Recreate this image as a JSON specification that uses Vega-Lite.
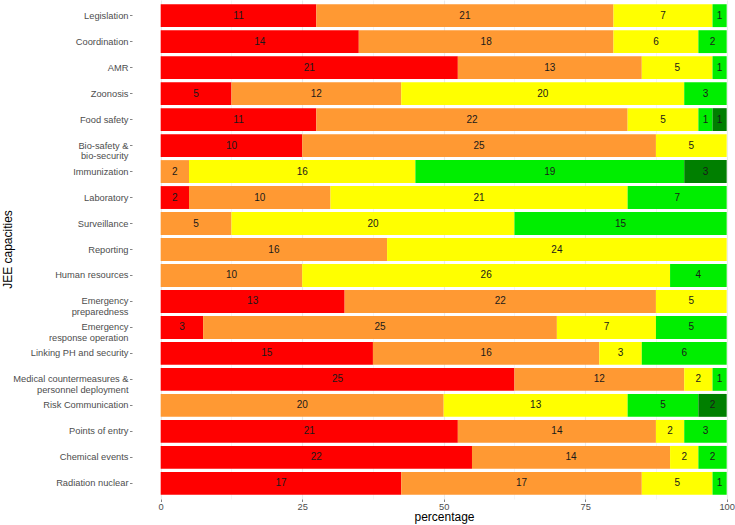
{
  "$schema": "https://vega.github.io/schema/vega-lite/v6.json",
  "autosize": {"type": "none"},
  "padding": {"left": 132, "top": 0, "right": 0, "bottom": 26},
  "width": 603,
  "height": 499,
  "background": "white",
  "config": {
    "view": {"stroke": null},
    "font": "Liberation Sans"
  },
  "data": {
    "values": [
      {"capacity": "Legislation", "level": 1, "count": 11},
      {"capacity": "Legislation", "level": 2, "count": 21},
      {"capacity": "Legislation", "level": 3, "count": 7},
      {"capacity": "Legislation", "level": 4, "count": 1},
      {"capacity": "Coordination", "level": 1, "count": 14},
      {"capacity": "Coordination", "level": 2, "count": 18},
      {"capacity": "Coordination", "level": 3, "count": 6},
      {"capacity": "Coordination", "level": 4, "count": 2},
      {"capacity": "AMR", "level": 1, "count": 21},
      {"capacity": "AMR", "level": 2, "count": 13},
      {"capacity": "AMR", "level": 3, "count": 5},
      {"capacity": "AMR", "level": 4, "count": 1},
      {"capacity": "Zoonosis", "level": 1, "count": 5},
      {"capacity": "Zoonosis", "level": 2, "count": 12},
      {"capacity": "Zoonosis", "level": 3, "count": 20},
      {"capacity": "Zoonosis", "level": 4, "count": 3},
      {"capacity": "Food safety", "level": 1, "count": 11},
      {"capacity": "Food safety", "level": 2, "count": 22},
      {"capacity": "Food safety", "level": 3, "count": 5},
      {"capacity": "Food safety", "level": 4, "count": 1},
      {"capacity": "Food safety", "level": 5, "count": 1},
      {"capacity": "Bio-safety &|bio-security", "level": 1, "count": 10},
      {"capacity": "Bio-safety &|bio-security", "level": 2, "count": 25},
      {"capacity": "Bio-safety &|bio-security", "level": 3, "count": 5},
      {"capacity": "Immunization", "level": 2, "count": 2},
      {"capacity": "Immunization", "level": 3, "count": 16},
      {"capacity": "Immunization", "level": 4, "count": 19},
      {"capacity": "Immunization", "level": 5, "count": 3},
      {"capacity": "Laboratory", "level": 1, "count": 2},
      {"capacity": "Laboratory", "level": 2, "count": 10},
      {"capacity": "Laboratory", "level": 3, "count": 21},
      {"capacity": "Laboratory", "level": 4, "count": 7},
      {"capacity": "Surveillance", "level": 2, "count": 5},
      {"capacity": "Surveillance", "level": 3, "count": 20},
      {"capacity": "Surveillance", "level": 4, "count": 15},
      {"capacity": "Reporting", "level": 2, "count": 16},
      {"capacity": "Reporting", "level": 3, "count": 24},
      {"capacity": "Human resources", "level": 2, "count": 10},
      {"capacity": "Human resources", "level": 3, "count": 26},
      {"capacity": "Human resources", "level": 4, "count": 4},
      {"capacity": "Emergency|preparedness", "level": 1, "count": 13},
      {"capacity": "Emergency|preparedness", "level": 2, "count": 22},
      {"capacity": "Emergency|preparedness", "level": 3, "count": 5},
      {"capacity": "Emergency|response operation", "level": 1, "count": 3},
      {"capacity": "Emergency|response operation", "level": 2, "count": 25},
      {"capacity": "Emergency|response operation", "level": 3, "count": 7},
      {"capacity": "Emergency|response operation", "level": 4, "count": 5},
      {"capacity": "Linking PH and security", "level": 1, "count": 15},
      {"capacity": "Linking PH and security", "level": 2, "count": 16},
      {"capacity": "Linking PH and security", "level": 3, "count": 3},
      {"capacity": "Linking PH and security", "level": 4, "count": 6},
      {"capacity": "Medical countermeasures &|personnel deployment", "level": 1, "count": 25},
      {"capacity": "Medical countermeasures &|personnel deployment", "level": 2, "count": 12},
      {"capacity": "Medical countermeasures &|personnel deployment", "level": 3, "count": 2},
      {"capacity": "Medical countermeasures &|personnel deployment", "level": 4, "count": 1},
      {"capacity": "Risk Communication", "level": 2, "count": 20},
      {"capacity": "Risk Communication", "level": 3, "count": 13},
      {"capacity": "Risk Communication", "level": 4, "count": 5},
      {"capacity": "Risk Communication", "level": 5, "count": 2},
      {"capacity": "Points of entry", "level": 1, "count": 21},
      {"capacity": "Points of entry", "level": 2, "count": 14},
      {"capacity": "Points of entry", "level": 3, "count": 2},
      {"capacity": "Points of entry", "level": 4, "count": 3},
      {"capacity": "Chemical events", "level": 1, "count": 22},
      {"capacity": "Chemical events", "level": 2, "count": 14},
      {"capacity": "Chemical events", "level": 3, "count": 2},
      {"capacity": "Chemical events", "level": 4, "count": 2},
      {"capacity": "Radiation nuclear", "level": 1, "count": 17},
      {"capacity": "Radiation nuclear", "level": 2, "count": 17},
      {"capacity": "Radiation nuclear", "level": 3, "count": 5},
      {"capacity": "Radiation nuclear", "level": 4, "count": 1}
    ]
  },
  "transform": [
    {"stack": "count", "groupby": ["capacity"], "sort": [{"field": "level", "order": "ascending"}], "as": ["x0", "x1"], "offset": "normalize"},
    {"calculate": "(datum.x0 + datum.x1) / 2", "as": "xmid"}
  ],
  "encoding": {
    "y": {
      "field": "capacity",
      "type": "nominal",
      "sort": ["Legislation", "Coordination", "AMR", "Zoonosis", "Food safety", "Bio-safety &|bio-security", "Immunization", "Laboratory", "Surveillance", "Reporting", "Human resources", "Emergency|preparedness", "Emergency|response operation", "Linking PH and security", "Medical countermeasures &|personnel deployment", "Risk Communication", "Points of entry", "Chemical events", "Radiation nuclear"],
      "scale": {"paddingInner": 0.12, "paddingOuter": 0.163},
      "axis": {
        "title": "JEE capacities",
        "titleFontSize": 12,
        "titleFontWeight": "normal",
        "titleColor": "black",
        "titleX": -125,
        "titleY": 249,
        "titleAngle": -90,
        "titleAlign": "center",
        "titleBaseline": "middle",
        "labelExpr": "split(datum.label, '|')",
        "labelFontSize": 9.3,
        "labelColor": "#4D4D4D",
        "labelLineHeight": 10.5,
        "labelPadding": 1.5,
        "tickSize": 2.5,
        "tickColor": "#333333",
        "tickWidth": 0.6,
        "domain": false,
        "grid": false
      }
    }
  },
  "layer": [
    {
      "mark": {"type": "bar"},
      "encoding": {
        "x": {
          "field": "x0",
          "type": "quantitative",
          "scale": {"domain": [-0.0507, 1.0147], "nice": false, "zero": false},
          "axis": {
            "title": "percentage",
            "titleFontSize": 12,
            "titleFontWeight": "normal",
            "titleColor": "black",
            "titleY": 21.5,
            "titleBaseline": "alphabetic",
            "titleX": 312,
            "titleAnchor": "middle",
            "values": [0, 0.125, 0.25, 0.375, 0.5, 0.625, 0.75, 0.875, 1],
            "labelExpr": "(datum.value * 100) % 25 === 0 ? format(datum.value * 100, 'd') : ''",
            "labelFontSize": 9.3,
            "labelColor": "#4D4D4D",
            "labelPadding": 0.5,
            "labelFlush": false,
            "tickSize": 2.5,
            "tickColor": "#333333",
            "tickWidth": 0.6,
            "tickOpacity": {"condition": {"test": "(datum.value * 100) % 25 !== 0", "value": 0}, "value": 1},
            "domain": false,
            "grid": true,
            "gridColor": "#EBEBEB",
            "gridWidth": {"condition": {"test": "(datum.value * 100) % 25 !== 0", "value": 0.5}, "value": 1.1}
          }
        },
        "x2": {"field": "x1"},
        "color": {
          "field": "level",
          "type": "nominal",
          "scale": {"domain": [1, 2, 3, 4, 5], "range": ["#FF0000", "#FF9933", "#FFFF00", "#00EE00", "#007F00"]},
          "legend": null
        }
      }
    },
    {
      "mark": {"type": "text", "fontSize": 10, "color": "#1A1A1A"},
      "encoding": {
        "x": {"field": "xmid", "type": "quantitative"},
        "text": {"field": "count", "type": "quantitative"}
      }
    }
  ]
}
